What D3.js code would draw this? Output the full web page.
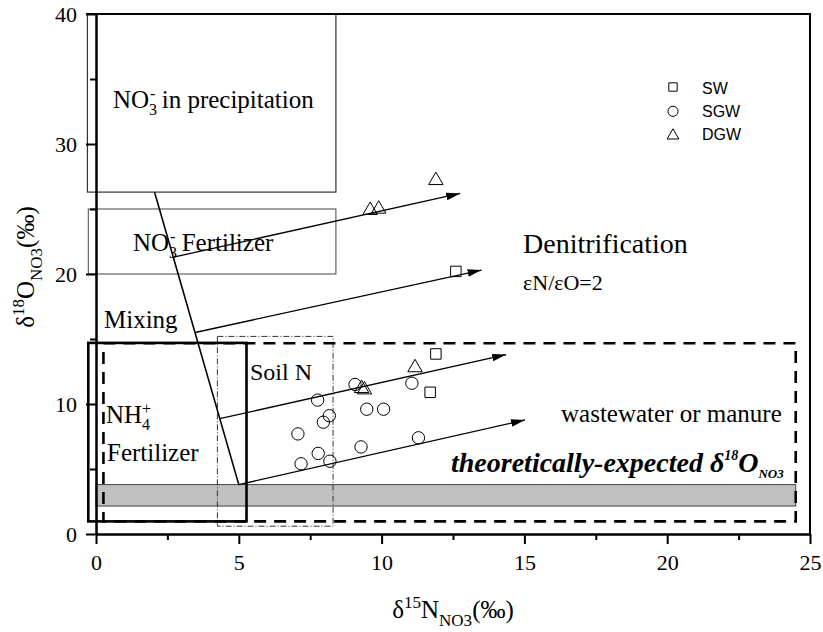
<!DOCTYPE html>
<html>
<head>
<meta charset="utf-8">
<script src="https://cdn.jsdelivr.net/npm/d3@7"></script>
<style>
  body { margin: 0; background: #fff; }
</style>
</head>
<body>
<svg id="chart" width="823" height="632"></svg>
<script>
// Values: d15N (x) and d18O (y), in permil.
const swX = [12.6, 11.9, 11.7];
const swY = [20.2, 13.85, 10.9];
const sgwX = [7.76, 9.07, 11.06, 9.48, 10.07, 8.17, 7.96, 7.07, 9.28, 11.29, 7.78, 7.18, 8.19];
const sgwY = [10.3, 11.5, 11.6, 9.6, 9.6, 9.1, 8.6, 7.7, 6.7, 7.4, 6.2, 5.4, 5.6];
const dgwX = [9.3, 9.4, 11.17, 9.6, 9.9, 11.9];
const dgwY = [11.2, 11.1, 12.8, 24.9, 25.0, 27.2];

const seriesNames = ["SW", "SGW", "DGW"];
const xTicks = [0, 5, 10, 15, 20, 25];
const yTicks = [0, 10, 20, 30, 40];
const xMinor = [2.5, 7.5, 12.5, 17.5, 22.5];
const yMinor = [5, 15, 25, 35];

// Source fields as [x0, x1, y0, y1]
const precipBox = [-0.3, 8.4, 26.3, 40];
const no3FertBox = [-0.27, 8.4, 20, 25];
const nh4Box = [-0.27, 5.27, 0.97, 14.7];
const manureBox = [0.26, 24.5, 0.97, 14.67];
const soilBox = [4.25, 8.3, 0.6, 15.2];
const expectedBand = [0, 24.5, 2.15, 3.8];

// Mixing line and denitrification arrows (slope 1/2)
const mixX = [2.05, 5.0];
const mixY = [26.3, 3.8];
const arrowX0 = [2.72, 3.47, 4.33, 5.0];
const arrowY0 = [21.3, 15.5, 8.87, 3.8];
const arrowX1 = [12.75, 13.5, 14.36, 15.02];
const arrowY1 = [26.2, 20.3, 13.8, 8.77];

const serif = "Liberation Serif, Times New Roman, serif";
const sans = "Liberation Sans, Arial, sans-serif";

const svg = d3.select("#chart");
const margin = { top: 14, right: 13, bottom: 98, left: 96 };
const width = +svg.attr("width") - margin.left - margin.right;
const height = +svg.attr("height") - margin.top - margin.bottom;

const x = d3.scaleLinear().domain([0, 25]).range([0, width]);
const y = d3.scaleLinear().domain([0, 40]).range([height, 0]);

svg.append("rect").attr("width", 823).attr("height", 632).attr("fill", "#fff");

svg.append("defs").append("marker")
    .attr("id", "head")
    .attr("markerUnits", "userSpaceOnUse")
    .attr("viewBox", "0 -5 14 10")
    .attr("refX", 14).attr("refY", 0)
    .attr("markerWidth", 14).attr("markerHeight", 10)
    .attr("orient", "auto")
  .append("path")
    .attr("d", "M0,-3.8L14,0L0,3.8Z")
    .attr("fill", "#000");

const g = svg.append("g").attr("transform", `translate(${margin.left},${margin.top})`);

function box(b) {
  return g.append("rect")
    .attr("x", x(b[0])).attr("y", y(b[3]))
    .attr("width", x(b[1]) - x(b[0]))
    .attr("height", y(b[2]) - y(b[3]))
    .attr("fill", "none");
}

// Grey band of theoretically-expected d18O
box(expectedBand).attr("fill", "#c0c0c0").attr("stroke", "#444").attr("stroke-width", 1);

box(precipBox).attr("stroke", "#333").attr("stroke-width", 1.2);
box(no3FertBox).attr("stroke", "#444").attr("stroke-width", 1);
box(soilBox).attr("stroke", "#333").attr("stroke-width", 1).attr("stroke-dasharray", "6,2,1,2");
box(manureBox).attr("stroke", "#000").attr("stroke-width", 2.6).attr("stroke-dasharray", "12,8");
box(nh4Box).attr("stroke", "#000").attr("stroke-width", 2.6);

// Mixing line
g.append("line")
    .attr("x1", x(mixX[0])).attr("y1", y(mixY[0]))
    .attr("x2", x(mixX[1])).attr("y2", y(mixY[1]))
    .attr("stroke", "#000").attr("stroke-width", 1.6);

// Denitrification arrows
g.selectAll(".arrow")
  .data(arrowX0.map((d, i) => i))
  .enter().append("line")
    .attr("class", "arrow")
    .attr("x1", i => x(arrowX0[i])).attr("y1", i => y(arrowY0[i]))
    .attr("x2", i => x(arrowX1[i])).attr("y2", i => y(arrowY1[i]))
    .attr("stroke", "#000").attr("stroke-width", 1.3)
    .attr("marker-end", "url(#head)");

// Axes
const yAxis = g.append("g")
    .call(d3.axisLeft(y).tickValues(yTicks).tickSize(10).tickSizeOuter(0).tickPadding(9));
yAxis.append("g")
    .call(d3.axisLeft(y).tickValues(yMinor).tickSize(6).tickSizeOuter(0).tickFormat(""));
const xAxis = g.append("g").attr("transform", `translate(0,${height})`)
    .call(d3.axisBottom(x).tickValues(xTicks).tickSize(10).tickSizeOuter(0).tickPadding(10));
xAxis.append("g")
    .call(d3.axisBottom(x).tickValues(xMinor).tickSize(6).tickSizeOuter(0).tickFormat(""));

yAxis.attr("font-family", serif).attr("font-size", 22);
xAxis.attr("font-family", serif).attr("font-size", 22);
svg.selectAll(".domain").attr("stroke", "#000").attr("stroke-width", 2);
svg.selectAll(".tick line").attr("stroke", "#000").attr("stroke-width", 2);
svg.selectAll(".tick text").attr("fill", "#000");

// Frame: top and right
g.append("path")
    .attr("d", `M${x(0)},${y(40)}H${x(25)}V${y(0)}`)
    .attr("fill", "none").attr("stroke", "#000").attr("stroke-width", 2);
g.append("line")
    .attr("x1", -10).attr("x2", 0).attr("y1", y(40)).attr("y2", y(40))
    .attr("stroke", "#000").attr("stroke-width", 2);

// Data markers
const circleSym = d3.symbol().type(d3.symbolCircle);
const squareSym = d3.symbol().type(d3.symbolSquare);
const triSym = d3.symbol().type(d3.symbolTriangle);

function points(xs, ys, sym, size) {
  g.append("g").selectAll("path")
    .data(xs.map((v, i) => [v, ys[i]]))
    .enter().append("path")
      .attr("transform", d => `translate(${x(d[0])},${y(d[1])})`)
      .attr("d", sym.size(size)())
      .attr("fill", "none")
      .attr("stroke", "#000")
      .attr("stroke-width", 1);
}
points(sgwX, sgwY, circleSym, 120);
points(swX, swY, squareSym, 110);
points(dgwX, dgwY, triSym, 90);

// Legend
const legendSyms = [squareSym.size(70)(), circleSym.size(80)(), triSym.size(60)()];
const legend = svg.append("g");
seriesNames.forEach((name, i) => {
  legend.append("path")
      .attr("transform", `translate(673,${87 + i * 24.3})`)
      .attr("d", legendSyms[i])
      .attr("fill", "none").attr("stroke", "#000").attr("stroke-width", 1);
  legend.append("text")
      .attr("x", 702).attr("y", 94 + i * 23)
      .attr("font-family", sans).attr("font-size", 16)
      .text(name);
});

// Rich text helper: parts = [text, fontSize, dy, dx]
function rich(parent, px, py, parts, opts = {}) {
  const t = parent.append("text")
      .attr("x", px).attr("y", py)
      .attr("font-family", opts.family || serif)
      .attr("fill", "#000");
  if (opts.anchor) t.attr("text-anchor", opts.anchor);
  if (opts.weight) t.attr("font-weight", opts.weight);
  if (opts.style) t.attr("font-style", opts.style);
  if (opts.transform) t.attr("transform", opts.transform);
  parts.forEach(p => {
    const s = t.append("tspan").attr("font-size", p[1]).text(p[0]);
    if (p[2]) s.attr("dy", p[2]);
    if (p[3]) s.attr("dx", p[3]);
  });
  return t;
}

rich(svg, 113, 108, [["NO", 25], ["3", 16, 7], ["-", 16, -16, -7], [" in precipitation", 25, 9, 0]]);
rich(svg, 133, 251, [["NO", 25], ["3", 16, 7], ["-", 16, -16, -7], [" Fertilizer", 25, 9, 0]]);
rich(svg, 104, 328, [["Mixing", 25]]);
rich(svg, 250, 380, [["Soil N", 24]]);
rich(svg, 106, 423, [["NH", 25], ["4", 16, 7], ["+", 16, -16, -8]]);
rich(svg, 107, 461, [["Fertilizer", 25]]);
rich(svg, 523, 253, [["Denitrification", 28]]);
rich(svg, 523, 290, [["\u03b5N/\u03b5O=2", 22]]);
rich(svg, 561, 422, [["wastewater or manure", 25]]);
rich(svg, 451, 472, [["theoretically-expected  ", 28], ["\u03b4", 28], ["18", 14, -12, 0], ["O", 28, 12], ["NO3", 13, 6]],
     { weight: "bold", style: "italic" });

// Axis titles
rich(svg, 453, 618, [["\u03b4", 25], ["15", 17, -10], ["N", 25, 10], ["NO3", 17, 8], ["(\u2030)", 25, -8]],
     { anchor: "middle" });
rich(svg, 0, 0, [["\u03b4", 25], ["18", 17, -10], ["O", 25, 10], ["NO3", 17, 8], ["(\u2030)", 25, -8]],
     { anchor: "middle", transform: "translate(34,267) rotate(-90)" });
</script>
</body>
</html>
